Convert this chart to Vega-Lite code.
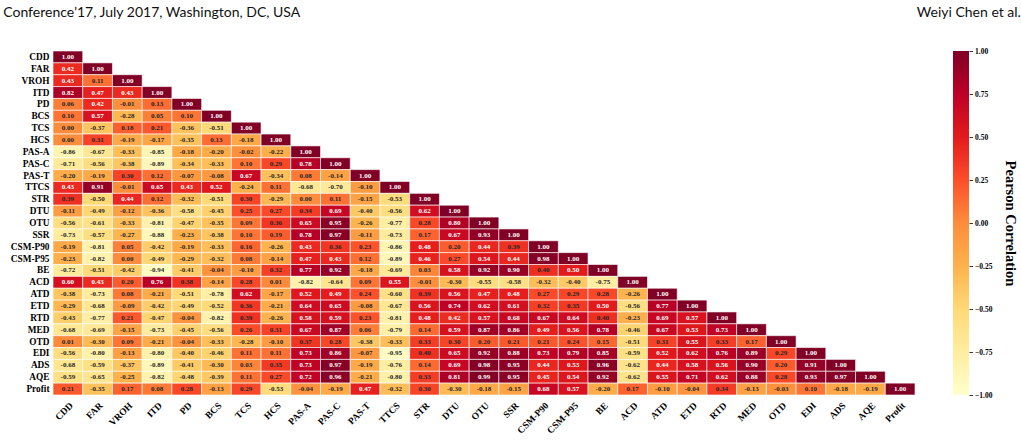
{
  "$schema": "https://vega.github.io/schema/vega-lite/v6.json",
  "background": "white",
  "padding": {"left": 3, "top": 5, "right": 6, "bottom": 4},
  "config": {
    "view": {"stroke": null},
    "locale": {"number": {"decimal": ".", "thousands": ",", "grouping": [3], "currency": ["", ""], "minus": "-"}}
  },
  "datasets": {
    "corr": [
      {"r":"CDD","c":"CDD","v":1},
      {"r":"FAR","c":"CDD","v":0.42},{"r":"FAR","c":"FAR","v":1},
      {"r":"VROH","c":"CDD","v":0.43},{"r":"VROH","c":"FAR","v":0.11},{"r":"VROH","c":"VROH","v":1},
      {"r":"ITD","c":"CDD","v":0.82},{"r":"ITD","c":"FAR","v":0.47},{"r":"ITD","c":"VROH","v":0.43},{"r":"ITD","c":"ITD","v":1},
      {"r":"PD","c":"CDD","v":0.06},{"r":"PD","c":"FAR","v":0.42},{"r":"PD","c":"VROH","v":-0.01},{"r":"PD","c":"ITD","v":0.13},{"r":"PD","c":"PD","v":1},
      {"r":"BCS","c":"CDD","v":0.10},{"r":"BCS","c":"FAR","v":0.57},{"r":"BCS","c":"VROH","v":-0.28},{"r":"BCS","c":"ITD","v":0.05},{"r":"BCS","c":"PD","v":0.10},{"r":"BCS","c":"BCS","v":1},
      {"r":"TCS","c":"CDD","v":0.00},{"r":"TCS","c":"FAR","v":-0.37},{"r":"TCS","c":"VROH","v":0.18},{"r":"TCS","c":"ITD","v":0.21},{"r":"TCS","c":"PD","v":-0.36},{"r":"TCS","c":"BCS","v":-0.51},{"r":"TCS","c":"TCS","v":1},
      {"r":"HCS","c":"CDD","v":0.00},{"r":"HCS","c":"FAR","v":0.31},{"r":"HCS","c":"VROH","v":-0.19},{"r":"HCS","c":"ITD","v":-0.17},{"r":"HCS","c":"PD","v":-0.35},{"r":"HCS","c":"BCS","v":0.13},{"r":"HCS","c":"TCS","v":-0.18},{"r":"HCS","c":"HCS","v":1},
      {"r":"PAS-A","c":"CDD","v":-0.86},{"r":"PAS-A","c":"FAR","v":-0.67},{"r":"PAS-A","c":"VROH","v":-0.33},{"r":"PAS-A","c":"ITD","v":-0.85},{"r":"PAS-A","c":"PD","v":-0.18},{"r":"PAS-A","c":"BCS","v":-0.20},{"r":"PAS-A","c":"TCS","v":-0.02},{"r":"PAS-A","c":"HCS","v":-0.22},{"r":"PAS-A","c":"PAS-A","v":1},
      {"r":"PAS-C","c":"CDD","v":-0.71},{"r":"PAS-C","c":"FAR","v":-0.56},{"r":"PAS-C","c":"VROH","v":-0.38},{"r":"PAS-C","c":"ITD","v":-0.89},{"r":"PAS-C","c":"PD","v":-0.34},{"r":"PAS-C","c":"BCS","v":-0.33},{"r":"PAS-C","c":"TCS","v":0.10},{"r":"PAS-C","c":"HCS","v":0.29},{"r":"PAS-C","c":"PAS-A","v":0.78},{"r":"PAS-C","c":"PAS-C","v":1},
      {"r":"PAS-T","c":"CDD","v":-0.20},{"r":"PAS-T","c":"FAR","v":-0.19},{"r":"PAS-T","c":"VROH","v":0.30},{"r":"PAS-T","c":"ITD","v":0.12},{"r":"PAS-T","c":"PD","v":-0.07},{"r":"PAS-T","c":"BCS","v":-0.08},{"r":"PAS-T","c":"TCS","v":0.67},{"r":"PAS-T","c":"HCS","v":-0.34},{"r":"PAS-T","c":"PAS-A","v":0.08},{"r":"PAS-T","c":"PAS-C","v":-0.14},{"r":"PAS-T","c":"PAS-T","v":1},
      {"r":"TTCS","c":"CDD","v":0.43},{"r":"TTCS","c":"FAR","v":0.91},{"r":"TTCS","c":"VROH","v":-0.01},{"r":"TTCS","c":"ITD","v":0.65},{"r":"TTCS","c":"PD","v":0.43},{"r":"TTCS","c":"BCS","v":0.52},{"r":"TTCS","c":"TCS","v":-0.24},{"r":"TTCS","c":"HCS","v":0.11},{"r":"TTCS","c":"PAS-A","v":-0.68},{"r":"TTCS","c":"PAS-C","v":-0.70},{"r":"TTCS","c":"PAS-T","v":-0.10},{"r":"TTCS","c":"TTCS","v":1},
      {"r":"STR","c":"CDD","v":0.39},{"r":"STR","c":"FAR","v":-0.50},{"r":"STR","c":"VROH","v":0.44},{"r":"STR","c":"ITD","v":0.12},{"r":"STR","c":"PD","v":-0.32},{"r":"STR","c":"BCS","v":-0.51},{"r":"STR","c":"TCS","v":0.30},{"r":"STR","c":"HCS","v":-0.29},{"r":"STR","c":"PAS-A","v":0.00},{"r":"STR","c":"PAS-C","v":0.11},{"r":"STR","c":"PAS-T","v":-0.15},{"r":"STR","c":"TTCS","v":-0.53},{"r":"STR","c":"STR","v":1},
      {"r":"DTU","c":"CDD","v":-0.11},{"r":"DTU","c":"FAR","v":-0.49},{"r":"DTU","c":"VROH","v":-0.12},{"r":"DTU","c":"ITD","v":-0.36},{"r":"DTU","c":"PD","v":-0.58},{"r":"DTU","c":"BCS","v":-0.45},{"r":"DTU","c":"TCS","v":0.25},{"r":"DTU","c":"HCS","v":0.27},{"r":"DTU","c":"PAS-A","v":0.34},{"r":"DTU","c":"PAS-C","v":0.69},{"r":"DTU","c":"PAS-T","v":-0.40},{"r":"DTU","c":"TTCS","v":-0.56},{"r":"DTU","c":"STR","v":0.62},{"r":"DTU","c":"DTU","v":1},
      {"r":"OTU","c":"CDD","v":-0.56},{"r":"OTU","c":"FAR","v":-0.61},{"r":"OTU","c":"VROH","v":-0.33},{"r":"OTU","c":"ITD","v":-0.81},{"r":"OTU","c":"PD","v":-0.47},{"r":"OTU","c":"BCS","v":-0.35},{"r":"OTU","c":"TCS","v":0.09},{"r":"OTU","c":"HCS","v":0.36},{"r":"OTU","c":"PAS-A","v":0.65},{"r":"OTU","c":"PAS-C","v":0.95},{"r":"OTU","c":"PAS-T","v":-0.26},{"r":"OTU","c":"TTCS","v":-0.77},{"r":"OTU","c":"STR","v":0.28},{"r":"OTU","c":"DTU","v":0.80},{"r":"OTU","c":"OTU","v":1},
      {"r":"SSR","c":"CDD","v":-0.73},{"r":"SSR","c":"FAR","v":-0.57},{"r":"SSR","c":"VROH","v":-0.27},{"r":"SSR","c":"ITD","v":-0.88},{"r":"SSR","c":"PD","v":-0.23},{"r":"SSR","c":"BCS","v":-0.38},{"r":"SSR","c":"TCS","v":0.10},{"r":"SSR","c":"HCS","v":0.19},{"r":"SSR","c":"PAS-A","v":0.78},{"r":"SSR","c":"PAS-C","v":0.97},{"r":"SSR","c":"PAS-T","v":-0.11},{"r":"SSR","c":"TTCS","v":-0.73},{"r":"SSR","c":"STR","v":0.17},{"r":"SSR","c":"DTU","v":0.67},{"r":"SSR","c":"OTU","v":0.93},{"r":"SSR","c":"SSR","v":1},
      {"r":"CSM-P90","c":"CDD","v":-0.19},{"r":"CSM-P90","c":"FAR","v":-0.81},{"r":"CSM-P90","c":"VROH","v":0.05},{"r":"CSM-P90","c":"ITD","v":-0.42},{"r":"CSM-P90","c":"PD","v":-0.19},{"r":"CSM-P90","c":"BCS","v":-0.33},{"r":"CSM-P90","c":"TCS","v":0.16},{"r":"CSM-P90","c":"HCS","v":-0.26},{"r":"CSM-P90","c":"PAS-A","v":0.43},{"r":"CSM-P90","c":"PAS-C","v":0.36},{"r":"CSM-P90","c":"PAS-T","v":0.23},{"r":"CSM-P90","c":"TTCS","v":-0.86},{"r":"CSM-P90","c":"STR","v":0.48},{"r":"CSM-P90","c":"DTU","v":0.20},{"r":"CSM-P90","c":"OTU","v":0.44},{"r":"CSM-P90","c":"SSR","v":0.39},{"r":"CSM-P90","c":"CSM-P90","v":1},
      {"r":"CSM-P95","c":"CDD","v":-0.23},{"r":"CSM-P95","c":"FAR","v":-0.82},{"r":"CSM-P95","c":"VROH","v":0.00},{"r":"CSM-P95","c":"ITD","v":-0.49},{"r":"CSM-P95","c":"PD","v":-0.29},{"r":"CSM-P95","c":"BCS","v":-0.32},{"r":"CSM-P95","c":"TCS","v":0.08},{"r":"CSM-P95","c":"HCS","v":-0.14},{"r":"CSM-P95","c":"PAS-A","v":0.47},{"r":"CSM-P95","c":"PAS-C","v":0.43},{"r":"CSM-P95","c":"PAS-T","v":0.12},{"r":"CSM-P95","c":"TTCS","v":-0.89},{"r":"CSM-P95","c":"STR","v":0.46},{"r":"CSM-P95","c":"DTU","v":0.27},{"r":"CSM-P95","c":"OTU","v":0.54},{"r":"CSM-P95","c":"SSR","v":0.44},{"r":"CSM-P95","c":"CSM-P90","v":0.98},{"r":"CSM-P95","c":"CSM-P95","v":1},
      {"r":"BE","c":"CDD","v":-0.72},{"r":"BE","c":"FAR","v":-0.51},{"r":"BE","c":"VROH","v":-0.42},{"r":"BE","c":"ITD","v":-0.94},{"r":"BE","c":"PD","v":-0.41},{"r":"BE","c":"BCS","v":-0.04},{"r":"BE","c":"TCS","v":-0.10},{"r":"BE","c":"HCS","v":0.32},{"r":"BE","c":"PAS-A","v":0.77},{"r":"BE","c":"PAS-C","v":0.92},{"r":"BE","c":"PAS-T","v":-0.18},{"r":"BE","c":"TTCS","v":-0.69},{"r":"BE","c":"STR","v":0.03},{"r":"BE","c":"DTU","v":0.58},{"r":"BE","c":"OTU","v":0.92},{"r":"BE","c":"SSR","v":0.90},{"r":"BE","c":"CSM-P90","v":0.40},{"r":"BE","c":"CSM-P95","v":0.50},{"r":"BE","c":"BE","v":1},
      {"r":"ACD","c":"CDD","v":0.60},{"r":"ACD","c":"FAR","v":0.43},{"r":"ACD","c":"VROH","v":0.20},{"r":"ACD","c":"ITD","v":0.76},{"r":"ACD","c":"PD","v":0.38},{"r":"ACD","c":"BCS","v":-0.14},{"r":"ACD","c":"TCS","v":0.28},{"r":"ACD","c":"HCS","v":0.01},{"r":"ACD","c":"PAS-A","v":-0.82},{"r":"ACD","c":"PAS-C","v":-0.64},{"r":"ACD","c":"PAS-T","v":0.09},{"r":"ACD","c":"TTCS","v":0.55},{"r":"ACD","c":"STR","v":-0.01},{"r":"ACD","c":"DTU","v":-0.30},{"r":"ACD","c":"OTU","v":-0.55},{"r":"ACD","c":"SSR","v":-0.58},{"r":"ACD","c":"CSM-P90","v":-0.32},{"r":"ACD","c":"CSM-P95","v":-0.40},{"r":"ACD","c":"BE","v":-0.75},{"r":"ACD","c":"ACD","v":1},
      {"r":"ATD","c":"CDD","v":-0.38},{"r":"ATD","c":"FAR","v":-0.73},{"r":"ATD","c":"VROH","v":0.08},{"r":"ATD","c":"ITD","v":-0.21},{"r":"ATD","c":"PD","v":-0.51},{"r":"ATD","c":"BCS","v":-0.78},{"r":"ATD","c":"TCS","v":0.62},{"r":"ATD","c":"HCS","v":-0.17},{"r":"ATD","c":"PAS-A","v":0.52},{"r":"ATD","c":"PAS-C","v":0.49},{"r":"ATD","c":"PAS-T","v":0.24},{"r":"ATD","c":"TTCS","v":-0.60},{"r":"ATD","c":"STR","v":0.39},{"r":"ATD","c":"DTU","v":0.56},{"r":"ATD","c":"OTU","v":0.47},{"r":"ATD","c":"SSR","v":0.48},{"r":"ATD","c":"CSM-P90","v":0.27},{"r":"ATD","c":"CSM-P95","v":0.29},{"r":"ATD","c":"BE","v":0.28},{"r":"ATD","c":"ACD","v":-0.26},{"r":"ATD","c":"ATD","v":1},
      {"r":"ETD","c":"CDD","v":-0.29},{"r":"ETD","c":"FAR","v":-0.68},{"r":"ETD","c":"VROH","v":-0.09},{"r":"ETD","c":"ITD","v":-0.42},{"r":"ETD","c":"PD","v":-0.49},{"r":"ETD","c":"BCS","v":-0.52},{"r":"ETD","c":"TCS","v":0.36},{"r":"ETD","c":"HCS","v":-0.21},{"r":"ETD","c":"PAS-A","v":0.64},{"r":"ETD","c":"PAS-C","v":0.65},{"r":"ETD","c":"PAS-T","v":-0.08},{"r":"ETD","c":"TTCS","v":-0.67},{"r":"ETD","c":"STR","v":0.56},{"r":"ETD","c":"DTU","v":0.74},{"r":"ETD","c":"OTU","v":0.62},{"r":"ETD","c":"SSR","v":0.61},{"r":"ETD","c":"CSM-P90","v":0.32},{"r":"ETD","c":"CSM-P95","v":0.35},{"r":"ETD","c":"BE","v":0.50},{"r":"ETD","c":"ACD","v":-0.56},{"r":"ETD","c":"ATD","v":0.77},{"r":"ETD","c":"ETD","v":1},
      {"r":"RTD","c":"CDD","v":-0.43},{"r":"RTD","c":"FAR","v":-0.77},{"r":"RTD","c":"VROH","v":0.21},{"r":"RTD","c":"ITD","v":-0.47},{"r":"RTD","c":"PD","v":-0.04},{"r":"RTD","c":"BCS","v":-0.82},{"r":"RTD","c":"TCS","v":0.39},{"r":"RTD","c":"HCS","v":-0.26},{"r":"RTD","c":"PAS-A","v":0.58},{"r":"RTD","c":"PAS-C","v":0.59},{"r":"RTD","c":"PAS-T","v":0.23},{"r":"RTD","c":"TTCS","v":-0.81},{"r":"RTD","c":"STR","v":0.48},{"r":"RTD","c":"DTU","v":0.42},{"r":"RTD","c":"OTU","v":0.57},{"r":"RTD","c":"SSR","v":0.68},{"r":"RTD","c":"CSM-P90","v":0.67},{"r":"RTD","c":"CSM-P95","v":0.64},{"r":"RTD","c":"BE","v":0.40},{"r":"RTD","c":"ACD","v":-0.23},{"r":"RTD","c":"ATD","v":0.69},{"r":"RTD","c":"ETD","v":0.57},{"r":"RTD","c":"RTD","v":1},
      {"r":"MED","c":"CDD","v":-0.68},{"r":"MED","c":"FAR","v":-0.69},{"r":"MED","c":"VROH","v":-0.15},{"r":"MED","c":"ITD","v":-0.73},{"r":"MED","c":"PD","v":-0.45},{"r":"MED","c":"BCS","v":-0.56},{"r":"MED","c":"TCS","v":0.26},{"r":"MED","c":"HCS","v":0.31},{"r":"MED","c":"PAS-A","v":0.67},{"r":"MED","c":"PAS-C","v":0.87},{"r":"MED","c":"PAS-T","v":0.06},{"r":"MED","c":"TTCS","v":-0.79},{"r":"MED","c":"STR","v":0.14},{"r":"MED","c":"DTU","v":0.59},{"r":"MED","c":"OTU","v":0.87},{"r":"MED","c":"SSR","v":0.86},{"r":"MED","c":"CSM-P90","v":0.49},{"r":"MED","c":"CSM-P95","v":0.56},{"r":"MED","c":"BE","v":0.78},{"r":"MED","c":"ACD","v":-0.46},{"r":"MED","c":"ATD","v":0.67},{"r":"MED","c":"ETD","v":0.53},{"r":"MED","c":"RTD","v":0.73},{"r":"MED","c":"MED","v":1},
      {"r":"OTD","c":"CDD","v":0.01},{"r":"OTD","c":"FAR","v":-0.30},{"r":"OTD","c":"VROH","v":0.09},{"r":"OTD","c":"ITD","v":-0.21},{"r":"OTD","c":"PD","v":-0.04},{"r":"OTD","c":"BCS","v":-0.33},{"r":"OTD","c":"TCS","v":-0.28},{"r":"OTD","c":"HCS","v":-0.10},{"r":"OTD","c":"PAS-A","v":0.37},{"r":"OTD","c":"PAS-C","v":0.28},{"r":"OTD","c":"PAS-T","v":-0.38},{"r":"OTD","c":"TTCS","v":-0.33},{"r":"OTD","c":"STR","v":0.33},{"r":"OTD","c":"DTU","v":0.30},{"r":"OTD","c":"OTU","v":0.20},{"r":"OTD","c":"SSR","v":0.21},{"r":"OTD","c":"CSM-P90","v":0.21},{"r":"OTD","c":"CSM-P95","v":0.24},{"r":"OTD","c":"BE","v":0.15},{"r":"OTD","c":"ACD","v":-0.51},{"r":"OTD","c":"ATD","v":0.31},{"r":"OTD","c":"ETD","v":0.55},{"r":"OTD","c":"RTD","v":0.33},{"r":"OTD","c":"MED","v":0.17},{"r":"OTD","c":"OTD","v":1},
      {"r":"EDI","c":"CDD","v":-0.56},{"r":"EDI","c":"FAR","v":-0.80},{"r":"EDI","c":"VROH","v":-0.13},{"r":"EDI","c":"ITD","v":-0.80},{"r":"EDI","c":"PD","v":-0.40},{"r":"EDI","c":"BCS","v":-0.46},{"r":"EDI","c":"TCS","v":0.11},{"r":"EDI","c":"HCS","v":0.11},{"r":"EDI","c":"PAS-A","v":0.73},{"r":"EDI","c":"PAS-C","v":0.86},{"r":"EDI","c":"PAS-T","v":-0.07},{"r":"EDI","c":"TTCS","v":-0.95},{"r":"EDI","c":"STR","v":0.40},{"r":"EDI","c":"DTU","v":0.65},{"r":"EDI","c":"OTU","v":0.92},{"r":"EDI","c":"SSR","v":0.88},{"r":"EDI","c":"CSM-P90","v":0.73},{"r":"EDI","c":"CSM-P95","v":0.79},{"r":"EDI","c":"BE","v":0.85},{"r":"EDI","c":"ACD","v":-0.59},{"r":"EDI","c":"ATD","v":0.52},{"r":"EDI","c":"ETD","v":0.62},{"r":"EDI","c":"RTD","v":0.76},{"r":"EDI","c":"MED","v":0.89},{"r":"EDI","c":"OTD","v":0.29},{"r":"EDI","c":"EDI","v":1},
      {"r":"ADS","c":"CDD","v":-0.68},{"r":"ADS","c":"FAR","v":-0.59},{"r":"ADS","c":"VROH","v":-0.37},{"r":"ADS","c":"ITD","v":-0.89},{"r":"ADS","c":"PD","v":-0.41},{"r":"ADS","c":"BCS","v":-0.30},{"r":"ADS","c":"TCS","v":0.03},{"r":"ADS","c":"HCS","v":0.35},{"r":"ADS","c":"PAS-A","v":0.73},{"r":"ADS","c":"PAS-C","v":0.97},{"r":"ADS","c":"PAS-T","v":-0.19},{"r":"ADS","c":"TTCS","v":-0.76},{"r":"ADS","c":"STR","v":0.14},{"r":"ADS","c":"DTU","v":0.69},{"r":"ADS","c":"OTU","v":0.98},{"r":"ADS","c":"SSR","v":0.95},{"r":"ADS","c":"CSM-P90","v":0.44},{"r":"ADS","c":"CSM-P95","v":0.53},{"r":"ADS","c":"BE","v":0.96},{"r":"ADS","c":"ACD","v":-0.62},{"r":"ADS","c":"ATD","v":0.44},{"r":"ADS","c":"ETD","v":0.58},{"r":"ADS","c":"RTD","v":0.56},{"r":"ADS","c":"MED","v":0.90},{"r":"ADS","c":"OTD","v":0.20},{"r":"ADS","c":"EDI","v":0.91},{"r":"ADS","c":"ADS","v":1},
      {"r":"AQE","c":"CDD","v":-0.59},{"r":"AQE","c":"FAR","v":-0.65},{"r":"AQE","c":"VROH","v":-0.25},{"r":"AQE","c":"ITD","v":-0.82},{"r":"AQE","c":"PD","v":-0.48},{"r":"AQE","c":"BCS","v":-0.39},{"r":"AQE","c":"TCS","v":0.11},{"r":"AQE","c":"HCS","v":0.27},{"r":"AQE","c":"PAS-A","v":0.72},{"r":"AQE","c":"PAS-C","v":0.96},{"r":"AQE","c":"PAS-T","v":-0.21},{"r":"AQE","c":"TTCS","v":-0.80},{"r":"AQE","c":"STR","v":0.33},{"r":"AQE","c":"DTU","v":0.81},{"r":"AQE","c":"OTU","v":0.99},{"r":"AQE","c":"SSR","v":0.95},{"r":"AQE","c":"CSM-P90","v":0.45},{"r":"AQE","c":"CSM-P95","v":0.54},{"r":"AQE","c":"BE","v":0.92},{"r":"AQE","c":"ACD","v":-0.62},{"r":"AQE","c":"ATD","v":0.55},{"r":"AQE","c":"ETD","v":0.71},{"r":"AQE","c":"RTD","v":0.62},{"r":"AQE","c":"MED","v":0.88},{"r":"AQE","c":"OTD","v":0.28},{"r":"AQE","c":"EDI","v":0.93},{"r":"AQE","c":"ADS","v":0.97},{"r":"AQE","c":"AQE","v":1},
      {"r":"Profit","c":"CDD","v":0.21},{"r":"Profit","c":"FAR","v":-0.35},{"r":"Profit","c":"VROH","v":0.17},{"r":"Profit","c":"ITD","v":0.08},{"r":"Profit","c":"PD","v":0.28},{"r":"Profit","c":"BCS","v":-0.13},{"r":"Profit","c":"TCS","v":0.29},{"r":"Profit","c":"HCS","v":-0.53},{"r":"Profit","c":"PAS-A","v":-0.04},{"r":"Profit","c":"PAS-C","v":-0.19},{"r":"Profit","c":"PAS-T","v":0.47},{"r":"Profit","c":"TTCS","v":-0.32},{"r":"Profit","c":"STR","v":0.30},{"r":"Profit","c":"DTU","v":-0.30},{"r":"Profit","c":"OTU","v":-0.18},{"r":"Profit","c":"SSR","v":-0.15},{"r":"Profit","c":"CSM-P90","v":0.68},{"r":"Profit","c":"CSM-P95","v":0.57},{"r":"Profit","c":"BE","v":-0.20},{"r":"Profit","c":"ACD","v":0.17},{"r":"Profit","c":"ATD","v":-0.10},{"r":"Profit","c":"ETD","v":-0.04},{"r":"Profit","c":"RTD","v":0.34},{"r":"Profit","c":"MED","v":-0.13},{"r":"Profit","c":"OTD","v":-0.03},{"r":"Profit","c":"EDI","v":0.10},{"r":"Profit","c":"ADS","v":-0.18},{"r":"Profit","c":"AQE","v":-0.19},{"r":"Profit","c":"Profit","v":1}
    ]
  },
  "hconcat": [
    {
      "width": 862,
      "height": 344,
      "title": {
        "text": "Conference’17, July 2017, Washington, DC, USA",
        "anchor": "start",
        "frame": "bounds",
        "font": "Lato",
        "fontSize": 14,
        "fontWeight": "normal",
        "color": "#111111",
        "offset": 31,
        "dx": -7
      },
      "data": {"name": "corr"},
      "encoding": {
        "x": {
          "field": "c", "type": "nominal",
          "sort": ["CDD","FAR","VROH","ITD","PD","BCS","TCS","HCS","PAS-A","PAS-C","PAS-T","TTCS","STR","DTU","OTU","SSR","CSM-P90","CSM-P95","BE","ACD","ATD","ETD","RTD","MED","OTD","EDI","ADS","AQE","Profit"],
          "scale": {"paddingInner": 0, "paddingOuter": 0},
          "axis": {"title": null, "orient": "bottom", "labelAngle": -45, "ticks": false, "domain": false, "labelPadding": 5,
                   "labelFont": "Liberation Serif", "labelFontWeight": "bold", "labelFontSize": 9.5, "labelColor": "black"}
        },
        "y": {
          "field": "r", "type": "nominal",
          "sort": ["CDD","FAR","VROH","ITD","PD","BCS","TCS","HCS","PAS-A","PAS-C","PAS-T","TTCS","STR","DTU","OTU","SSR","CSM-P90","CSM-P95","BE","ACD","ATD","ETD","RTD","MED","OTD","EDI","ADS","AQE","Profit"],
          "scale": {"paddingInner": 0, "paddingOuter": 0},
          "axis": {"title": null, "ticks": false, "domain": false, "labelPadding": 4,
                   "labelFont": "Liberation Serif", "labelFontWeight": "bold", "labelFontSize": 9.3, "labelColor": "black"}
        }
      },
      "layer": [
        {
          "mark": {"type": "rect", "stroke": "white", "strokeWidth": 0.6},
          "encoding": {
            "color": {
              "field": "v", "type": "quantitative",
              "scale": {
                "domain": [-1, -0.75, -0.5, -0.25, 0, 0.25, 0.5, 0.75, 1],
                "range": ["#ffffcc", "#ffeda0", "#fed976", "#feb24c", "#fd8d3c", "#fc4e2a", "#e31a1c", "#bd0026", "#800026"],
                "interpolate": "rgb"
              },
              "legend": null
            }
          }
        },
        {
          "mark": {"type": "text", "font": "Liberation Serif", "fontWeight": "bold", "fontSize": 7},
          "encoding": {
            "text": {"field": "v", "type": "quantitative", "format": ".2f"},
            "color": {"condition": {"test": "datum.v > 0.405", "value": "white"}, "value": "#262626"}
          }
        }
      ]
    },
    {
      "width": 16,
      "height": 344,
      "title": {
        "text": "Weiyi Chen et al.",
        "anchor": "end",
        "frame": "bounds",
        "font": "Lato",
        "fontSize": 14,
        "fontWeight": "normal",
        "color": "#111111",
        "offset": 27,
        "dx": 3
      },
      "data": {"values": [{"lo": -1, "hi": 1}]},
      "mark": {
        "type": "rect",
        "fill": {
          "gradient": "linear", "x1": 0, "y1": 1, "x2": 0, "y2": 0,
          "stops": [
            {"offset": 0, "color": "#ffffcc"},
            {"offset": 0.125, "color": "#ffeda0"},
            {"offset": 0.25, "color": "#fed976"},
            {"offset": 0.375, "color": "#feb24c"},
            {"offset": 0.5, "color": "#fd8d3c"},
            {"offset": 0.625, "color": "#fc4e2a"},
            {"offset": 0.75, "color": "#e31a1c"},
            {"offset": 0.875, "color": "#bd0026"},
            {"offset": 1, "color": "#800026"}
          ]
        }
      },
      "encoding": {
        "y": {
          "field": "lo", "type": "quantitative",
          "scale": {"domain": [-1, 1], "nice": false, "zero": false},
          "axis": {
            "orient": "right",
            "values": [-1, -0.75, -0.5, -0.25, 0, 0.25, 0.5, 0.75, 1],
            "labelExpr": "replace(format(datum.value, '.2f'), '-', '−')",
            "grid": false, "domain": false, "tickSize": 3.5, "tickColor": "black", "tickWidth": 0.8,
            "labelPadding": 2, "labelFont": "Liberation Serif", "labelFontWeight": "bold", "labelFontSize": 7.5, "labelColor": "black",
            "title": "Pearson Correlation", "titleFont": "Liberation Serif", "titleFontWeight": "bold", "titleFontSize": 14.5,
            "titleColor": "black", "titlePadding": 11
          }
        },
        "y2": {"field": "hi"}
      }
    }
  ],
  "spacing": 38,
  "bounds": "flush"
}
